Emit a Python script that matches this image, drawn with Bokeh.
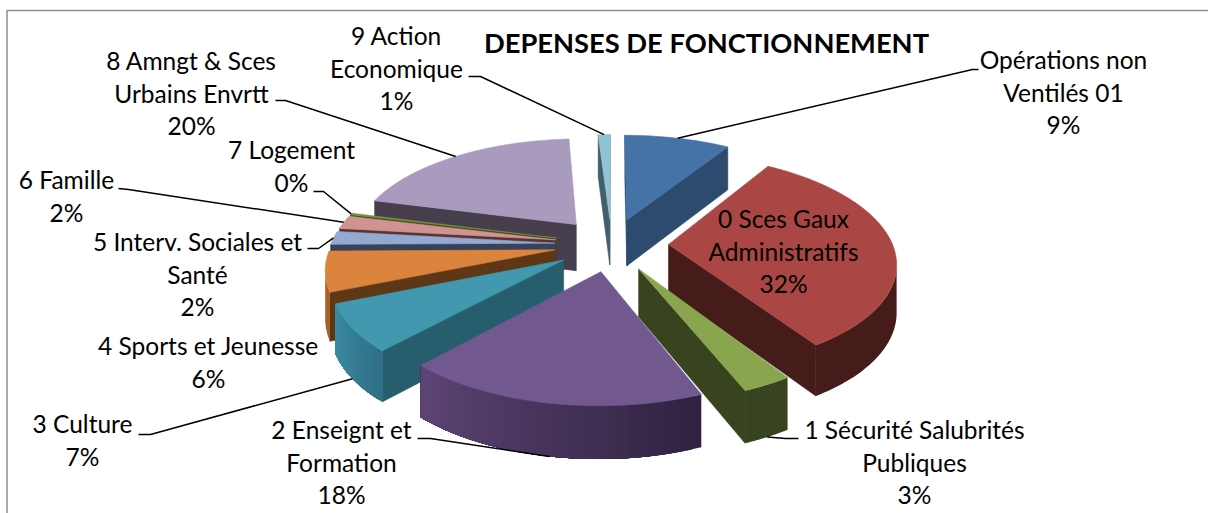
import math
from bokeh.plotting import figure
from bokeh.models import ColumnDataSource, Range1d
from bokeh.core.properties import value
from bokeh.embed import file_html
from bokeh.resources import INLINE

# ---------- data ----------
categories = ["Opérations non Ventilés 01", "0 Sces Gaux Administratifs", "1 Sécurité Salubrités Publiques",
              "2 Enseignt et Formation", "3 Culture", "4 Sports et Jeunesse",
              "5 Interv. Sociales et Santé", "6 Famille", "7 Logement",
              "8 Amngt & Sces Urbains Envrtt", "9 Action Economique"]
shares = [9, 32, 3, 18, 7, 6, 2, 2, 0.25, 20, 1]
title_text = "DEPENSES DE FONCTIONNEMENT"

label_lines = [["Opérations non", "Ventilés 01", "9%"],
               ["0 Sces Gaux", "Administratifs", "32%"],
               ["1 Sécurité Salubrités", "Publiques", "3%"],
               ["2 Enseignt et", "Formation", "18%"],
               ["3 Culture", "7%"],
               ["4 Sports et Jeunesse", "6%"],
               ["5 Interv. Sociales et", "Santé", "2%"],
               ["6 Famille", "2%"],
               ["7 Logement", "0%"],
               ["8 Amngt & Sces", "Urbains Envrtt", "20%"],
               ["9 Action", "Economique", "1%"]]

# ---------- styles ----------
top_colors = ["#4572A7", "#AA4643", "#89A54E", "#71588F", "#4198AF", "#DB843D",
              "#93A9CF", "#D19392", "#77903F", "#A99BBD", "#92C3D4"]
edge_colors = ["#2D4B6E", "#461C1A", "#38431F", "#3F2E52", "#265E6D", "#5E3716",
               "#38435B", "#5A3434", "#3C4A20", "#463E4D", "#3F606B"]
rim_start = ["#2D4B6E", "#461C1A", "#38431F", "#2F2340", "#2F7187", "#A85F22",
             "#38435B", "#5A3434", "#3C4A20", "#463E4D", "#3F606B"]
rim_end = ["#2D4B6E", "#461C1A", "#38431F", "#5C4475", "#3B8AA2", "#A85F22",
           "#38435B", "#5A3434", "#3C4A20", "#463E4D", "#3F606B"]

# ---------- layout of the projected pie (page pixels) ----------
W, H = 1208, 513
CX, CY = 611, 244      # pie centre
RADIUS = 224           # slice radius
EXPLODE = 57           # distance of each slice from the centre
TILT = 0.466           # vertical squash of the ground plane
DEPTH = 1470           # perspective distance
THICK = 47             # slice thickness
THICK_PERSP = 0.6      # thickness follows perspective less strongly

label_pos = [(1063, 59), (783, 218), (914, 429), (341, 429), (82, 423), (208, 345),
             (197, 241), (66, 179), (291, 149), (191, 60), (396, 35)]
PITCH = 32.6
# leader: text-side end, elbow, and whether it lands on the top or bottom of the rim
leaders = [((978, 69), (972, 69), 0), None,
           ((798, 438), (785, 438), 1), ((417, 438), (430, 438), 1),
           ((138, 434), (150, 434), 1), None,
           ((307, 248), (318, 248), 0), ((118, 188), (128, 189), 0),
           ((313, 191), (323, 191), 0), ((275, 100), (285, 100), 0),
           ((468, 76), (480, 76), 0)]


def project(x, y, z):
    w = 1.0 / (1.0 + y / DEPTH)
    return CX + x * w, CY - TILT * y * w - z * w ** THICK_PERSP


def mix(a, b, t):
    ca = [int(a[i:i + 2], 16) for i in (1, 3, 5)]
    cb = [int(b[i:i + 2], 16) for i in (1, 3, 5)]
    return "#%02x%02x%02x" % tuple(round(p + (q - p) * t) for p, q in zip(ca, cb))


def area(xs, ys):
    n = len(xs)
    return sum(xs[i] * ys[(i + 1) % n] - xs[(i + 1) % n] * ys[i] for i in range(n))


total = sum(shares)
bounds = []
acc = 0.0
for s in shares:
    bounds.append((acc / total * 2 * math.pi, (acc + s) / total * 2 * math.pi))
    acc += s
mids = [(a + b) / 2 for a, b in bounds]

px, py, pf, pa = [], [], [], []


def add(xs, ys, col, line_alpha=1.0):
    px.append(xs)
    py.append(ys)
    pf.append(col)
    pa.append(line_alpha)


def rim_point(i, th, z):
    ox, oy = EXPLODE * math.sin(mids[i]), EXPLODE * math.cos(mids[i])
    return project(ox + RADIUS * math.sin(th), oy + RADIUS * math.cos(th), z)


def apex_point(i, z):
    return project(EXPLODE * math.sin(mids[i]), EXPLODE * math.cos(mids[i]), z)


for i in sorted(range(len(shares)), key=lambda k: -math.cos(mids[k])):
    a, b = bounds[i]
    for th, rev in ((a, False), (b, True)):
        t0, t1 = apex_point(i, 0), rim_point(i, th, 0)
        b1, b0 = rim_point(i, th, -THICK), apex_point(i, -THICK)
        q = [t0, t1, b1, b0] if not rev else [t1, t0, b0, b1]
        xs, ys = [c[0] for c in q], [c[1] for c in q]
        if area(xs, ys) < 0:
            add(xs, ys, edge_colors[i])
    # curved outer wall: visible part as overlapping bands (no seams)
    m = max(4, int((b - a) / math.radians(0.5)))
    ths = [a + (b - a) * k / m for k in range(m + 1)]
    vis = []
    for k in range(m):
        q = [rim_point(i, ths[k], 0), rim_point(i, ths[k + 1], 0),
             rim_point(i, ths[k + 1], -THICK), rim_point(i, ths[k], -THICK)]
        if area([c[0] for c in q], [c[1] for c in q]) < 0:
            vis.append(k)
    if vis:
        lo, hi = ths[vis[0]], ths[vis[-1] + 1]
        bands = 32 if rim_start[i] != rim_end[i] else 1
        for k in range(bands):
            t1 = lo + (hi - lo) * k / bands
            # every band reaches to the far end; the next band paints over it
            tt_ = [t1 + (hi - t1) * j / 40 for j in range(41)]
            upper = [rim_point(i, t, 0) for t in tt_]
            lower = [rim_point(i, t, -THICK) for t in reversed(tt_)]
            pts = upper + lower
            add([c[0] for c in pts], [c[1] for c in pts],
                mix(rim_start[i], rim_end[i], k / max(1, bands - 1)), 0.0)
    pts = [apex_point(i, 0)]
    n = max(2, int((b - a) / math.radians(1)))
    pts += [rim_point(i, a + (b - a) * k / n, 0) for k in range(n + 1)]
    add([c[0] for c in pts], [c[1] for c in pts], top_colors[i])

p = figure(width=W, height=H, x_range=Range1d(0, W), y_range=Range1d(H, 0),
           output_backend="svg", toolbar_location=None, min_border=0)
p.axis.visible = False
p.grid.visible = False
p.outline_line_color = None
p.background_fill_color = "white"
p.border_fill_color = "white"

p.line([6.5, 6.5, W], [H, 10, 10], line_color="#8E8E8E", line_width=1.5)

p.patches("x", "y", fill_color="c", line_color="c", line_alpha="a", line_width=0.6,
          source=ColumnDataSource(dict(x=px, y=py, c=pf, a=pa)))

lx, ly = [], []
for i, ld in enumerate(leaders):
    if ld is None:
        continue
    end, elbow, lower = ld
    anchor = rim_point(i, mids[i], -THICK if lower else 0)
    lx.append([end[0], elbow[0], anchor[0]])
    ly.append([end[1], elbow[1], anchor[1]])
p.multi_line(lx, ly, line_color="black", line_width=1.5)

tx, ty, tt = [], [], []
for (x0, y0), lines in zip(label_pos, label_lines):
    for j, s in enumerate(lines):
        tx.append(x0)
        ty.append(y0 + j * PITCH)
        tt.append(s)
p.text(tx, ty, text=tt, text_font=value("Lato"), text_font_size="24.5px",
       text_color="black", text_align="center", text_baseline="middle")
p.text([706], [42], text=[title_text], text_font=value("Lato"), text_font_style="bold",
       text_font_size="27.3px", text_color="black", text_align="center", text_baseline="middle")

open("out.html", "w").write(file_html(p, INLINE))
